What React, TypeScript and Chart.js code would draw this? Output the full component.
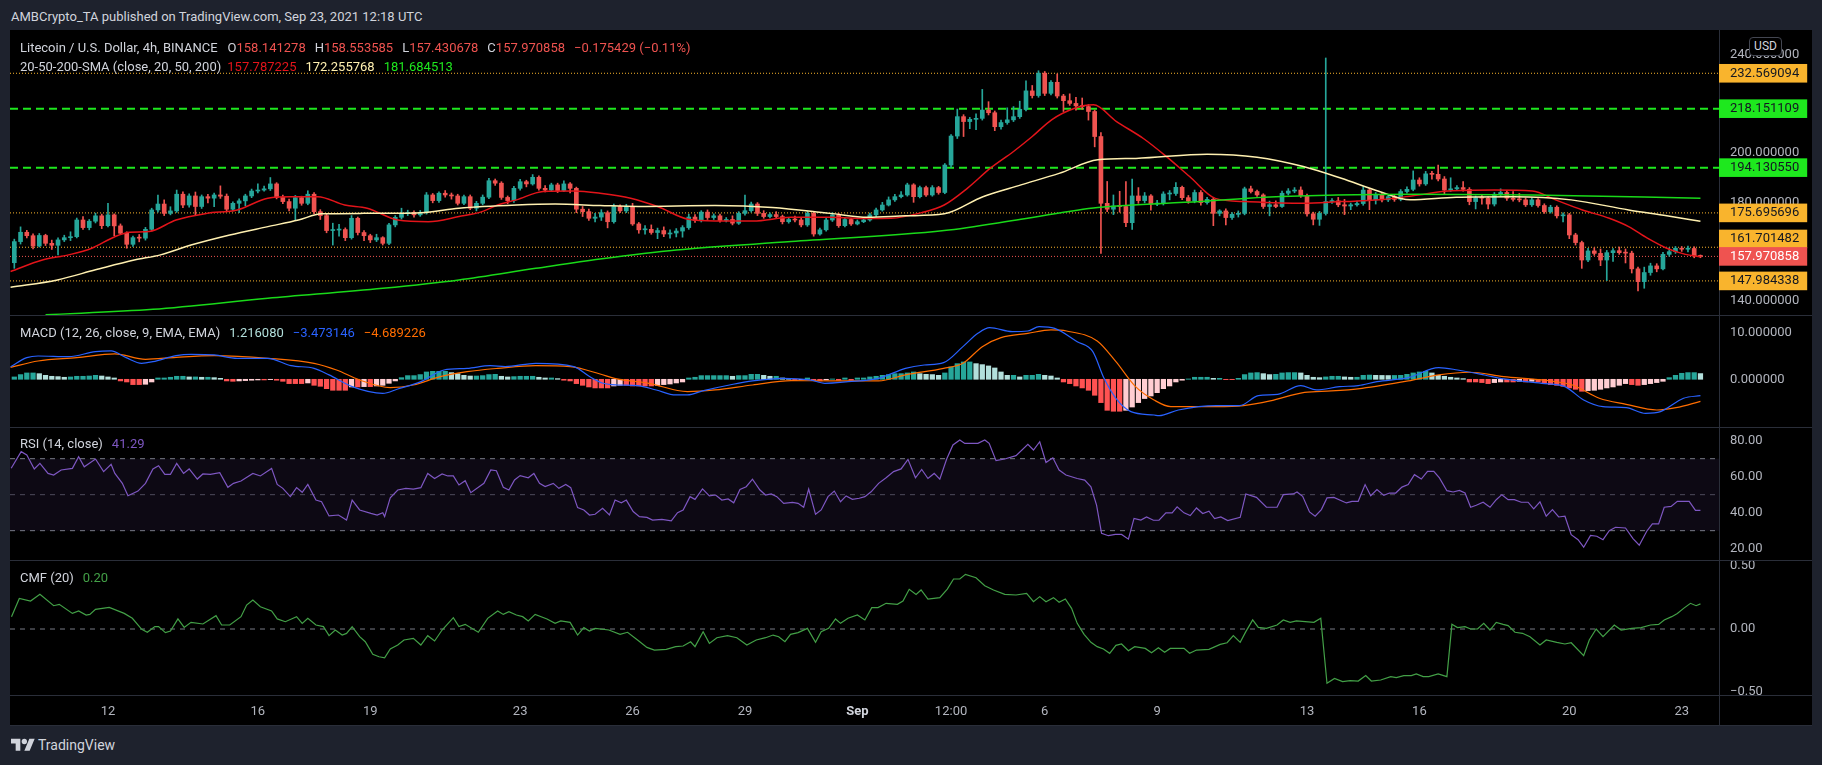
import React, { useEffect, useRef } from "react";
import { Chart, registerables } from "chart.js";

Chart.register(...registerables);

const FONT = "Roboto, 'Liberation Sans', Arial, sans-serif";
Chart.defaults.font.family = FONT;

// ---------------- layout (page pixels) ----------------
const FRAME_L = 10;
const FRAME_W = 1802;
const AXIS_W = 93;
const PRICE_T = 30, PRICE_H = 285;
const MACD_T = 315, MACD_H = 112;
const RSI_T = 427, RSI_H = 133;
const CMF_T = 560, CMF_H = 135;
const XAX_T = 695, XAX_H = 30;

const OUTER_BG = "#1e222d";
const SEP = "#2a2e39";
const AXIS_TEXT = "#b2b5be";
const LEGEND_TEXT = "#d1d4dc";
const UP = "#26a69a";
const DOWN = "#ef5350";
const ORANGE = "#f9b42d";
const GREEN = "#1ee81e";

// candle index range shown on the time axis
const X_MIN = -0.69;
const X_MAX = 272.97;
const PRICE_MIN = 134.1;
const PRICE_MAX = 250.2;

// ---------------- data ----------------
// 4h candles, index 0 = Aug 9 12:00 UTC ... index 270 = Sep 23 12:00 UTC
const opens = [
  155.4, 164.0, 167.8, 166.4, 162.2, 166.5, 163.3, 162.5, 164.7, 165.6,
  166.0, 172.8, 169.7, 172.3, 174.5, 170.5, 174.9, 170.4, 167.4, 162.9,
  165.6, 165.4, 169.0, 176.9, 179.3, 175.5, 176.5, 183.3, 178.9, 182.6,
  178.3, 182.3, 181.7, 183.0, 182.5, 177.2, 179.6, 180.6, 182.6, 184.6,
  185.0, 185.5, 187.5, 182.0, 180.3, 177.6, 181.9, 179.6, 183.3, 176.2,
  174.6, 168.5, 168.7, 168.9, 165.6, 173.5, 167.7, 166.4, 164.7, 165.6,
  163.3, 170.8, 173.9, 175.5, 175.9, 174.9, 175.8, 183.0, 180.7, 183.7,
  183.0, 182.6, 179.6, 182.3, 177.6, 179.6, 182.1, 188.8, 187.8, 182.0,
  180.7, 185.7, 188.4, 187.5, 190.2, 185.7, 185.0, 187.1, 184.8, 187.5,
  185.7, 177.2, 176.2, 173.5, 174.0, 175.8, 172.1, 178.3, 176.5, 178.3,
  171.2, 168.8, 169.0, 167.7, 168.5, 167.1, 167.5, 168.3, 169.7, 174.0,
  172.6, 176.0, 173.8, 174.5, 172.6, 173.0, 171.5, 175.5, 176.6, 179.3,
  175.5, 174.2, 175.0, 174.2, 172.1, 173.0, 172.8, 170.8, 175.5, 167.1,
  168.8, 172.8, 174.9, 170.5, 173.0, 171.2, 172.1, 172.8, 174.9, 176.9,
  178.9, 181.0, 182.3, 183.0, 187.1, 182.3, 186.0, 183.0, 186.0, 184.0,
  195.2, 207.0, 214.9, 212.9, 213.8, 214.2, 217.6, 216.5, 210.8, 212.5,
  213.6, 214.9, 217.9, 225.4, 223.5, 232.6, 224.4, 228.9, 223.3, 221.4,
  220.3, 219.3, 219.0, 217.0, 206.8, 179.6, 177.2, 178.5, 178.3, 171.7,
  182.6, 180.7, 182.6, 179.3, 179.5, 183.4, 183.6, 186.1, 181.9, 180.5,
  184.0, 179.9, 181.2, 175.5, 176.5, 173.8, 175.1, 175.5, 185.5, 184.4,
  183.0, 178.3, 179.0, 178.3, 183.7, 184.6, 185.0, 182.7, 175.3, 173.1,
  175.5, 180.3, 180.6, 179.0, 178.5, 179.0, 179.5, 185.0, 181.0, 183.3,
  181.0, 182.3, 181.2, 184.4, 185.3, 189.1, 187.5, 191.6, 191.4, 189.5,
  185.0, 185.5, 186.0, 185.3, 180.3, 181.9, 181.7, 179.3, 183.3, 184.0,
  181.7, 181.2, 181.0, 179.0, 181.0, 178.7, 176.2, 178.0, 174.5, 174.9,
  166.7, 163.6, 156.5, 160.2, 159.2, 156.5, 159.5, 160.3, 159.5, 159.3,
  152.9, 147.7, 151.4, 154.1, 152.9, 158.8, 159.9, 161.3, 160.9, 161.2,
  158.141,
];

const highs = [
  165.0, 170.0, 168.6, 167.2, 167.3, 167.0, 164.6, 165.5, 166.6, 168.0,
  173.6, 174.2, 173.0, 175.6, 175.2, 179.6, 175.3, 171.2, 168.0, 166.3,
  166.9, 169.8, 177.6, 183.0, 181.0, 178.2, 185.0, 184.3, 183.5, 184.2,
  183.0, 183.3, 183.8, 186.7, 183.4, 180.2, 181.4, 183.3, 185.4, 187.5,
  186.6, 190.1, 188.0, 183.0, 181.3, 182.8, 182.5, 184.7, 184.0, 177.0,
  175.2, 171.5, 171.0, 169.6, 174.6, 174.0, 168.5, 167.0, 167.0, 166.0,
  171.4, 174.6, 177.6, 176.8, 176.5, 176.7, 184.0, 183.6, 184.3, 184.8,
  183.8, 183.3, 183.0, 183.0, 180.4, 183.0, 189.8, 189.5, 188.4, 182.6,
  186.5, 189.4, 189.0, 191.3, 190.8, 186.8, 187.8, 187.8, 188.8, 188.0,
  186.2, 178.3, 177.2, 175.5, 177.0, 176.5, 179.3, 179.0, 179.2, 179.6,
  171.8, 170.5, 170.8, 169.5, 170.0, 168.8, 169.3, 170.5, 175.2, 175.0,
  176.6, 176.9, 175.3, 175.2, 173.8, 174.5, 176.2, 183.0, 180.1, 179.9,
  176.6, 175.7, 176.2, 174.8, 173.8, 174.4, 173.5, 176.3, 176.0, 169.5,
  173.8, 175.8, 175.5, 173.8, 173.5, 172.8, 173.6, 175.6, 177.7, 180.0,
  182.2, 183.3, 184.4, 187.8, 187.6, 186.6, 186.6, 186.8, 186.5, 195.8,
  207.6, 218.0, 215.7, 214.6, 216.0, 226.0, 221.0, 217.2, 213.5, 218.5,
  219.0, 221.2, 229.5, 227.6, 233.6, 233.3, 229.6, 232.3, 224.0, 224.2,
  222.8, 222.5, 219.8, 217.6, 208.4, 188.5, 183.0, 184.5, 188.5, 189.5,
  186.0, 184.0, 183.2, 180.8, 184.3, 184.8, 188.0, 186.6, 182.8, 185.0,
  184.8, 182.0, 182.0, 177.0, 177.3, 175.8, 176.5, 186.2, 186.6, 185.0,
  183.5, 180.5, 180.6, 184.6, 185.6, 186.0, 186.3, 183.4, 176.0, 176.3,
  238.8, 181.5, 182.0, 181.2, 179.7, 180.5, 186.4, 185.7, 184.0, 183.9,
  183.0, 183.0, 185.2, 186.3, 192.8, 190.0, 192.6, 192.6, 195.2, 190.5,
  190.0, 186.8, 188.5, 186.0, 182.6, 182.8, 182.3, 184.0, 185.5, 184.8,
  184.4, 183.6, 181.8, 181.8, 181.5, 179.4, 178.8, 178.6, 175.7, 175.5,
  167.4, 164.2, 161.3, 161.5, 161.0, 160.4, 161.2, 161.8, 161.0, 160.1,
  153.6, 153.6, 155.2, 155.0, 159.6, 161.5, 162.0, 162.0, 162.2, 161.9,
  158.554,
];

const lows = [
  153.1, 163.0, 165.5, 161.0, 161.8, 162.4, 160.8, 158.6, 164.0, 164.4,
  165.5, 169.0, 168.8, 171.6, 169.3, 170.0, 166.4, 166.8, 161.3, 162.0,
  163.9, 164.6, 168.4, 176.0, 174.6, 174.9, 175.9, 177.8, 178.0, 174.9,
  177.5, 179.8, 178.2, 181.6, 176.3, 176.5, 175.8, 178.6, 181.9, 183.8,
  184.5, 184.8, 181.4, 179.5, 176.5, 172.8, 178.8, 179.0, 175.4, 173.0,
  167.6, 162.6, 166.2, 164.4, 165.0, 166.7, 164.4, 163.6, 164.0, 162.6,
  162.8, 170.0, 173.2, 174.6, 174.0, 174.3, 175.2, 179.8, 180.0, 182.1,
  181.3, 178.9, 179.0, 177.0, 176.5, 179.0, 181.5, 186.9, 181.2, 179.4,
  180.0, 185.0, 186.3, 187.0, 185.0, 184.2, 184.4, 184.0, 184.3, 183.8,
  175.8, 174.2, 172.6, 172.0, 172.6, 169.6, 171.5, 175.8, 175.8, 170.6,
  167.4, 167.0, 167.0, 165.2, 166.0, 165.4, 165.9, 165.8, 169.0, 171.8,
  172.0, 173.0, 173.0, 171.9, 172.0, 170.8, 171.0, 174.8, 176.0, 174.6,
  173.5, 173.6, 173.5, 171.2, 171.5, 172.0, 170.0, 170.2, 166.2, 166.6,
  168.2, 172.2, 169.8, 170.0, 170.6, 170.8, 171.7, 172.3, 174.2, 176.4,
  178.5, 180.4, 181.8, 182.5, 180.0, 181.8, 182.4, 182.5, 183.3, 183.5,
  194.2, 206.0, 206.8, 210.0, 209.6, 213.5, 215.6, 209.2, 209.8, 211.8,
  212.9, 214.2, 217.2, 222.5, 222.8, 223.5, 223.8, 222.5, 217.0, 219.5,
  217.5, 217.9, 213.5, 202.6, 159.2, 176.2, 175.0, 176.0, 170.1, 169.0,
  179.6, 179.8, 176.8, 178.6, 178.9, 181.0, 182.8, 181.1, 179.6, 179.8,
  178.8, 179.2, 170.5, 174.5, 170.8, 173.0, 174.0, 174.9, 183.8, 182.4,
  177.5, 174.5, 177.8, 177.9, 183.0, 183.9, 182.0, 174.4, 170.8, 170.6,
  174.8, 179.6, 178.2, 175.0, 177.0, 178.4, 178.8, 177.0, 179.3, 180.2,
  180.3, 180.4, 180.6, 183.7, 184.7, 186.6, 186.9, 189.4, 188.7, 183.2,
  184.4, 184.8, 184.5, 179.0, 177.3, 179.2, 177.3, 178.5, 182.6, 180.8,
  180.5, 180.2, 178.3, 178.3, 178.0, 175.5, 175.6, 173.6, 172.0, 165.2,
  162.6, 153.1, 155.8, 158.4, 154.2, 148.1, 155.9, 158.8, 155.3, 151.2,
  143.9, 145.0, 150.3, 151.7, 152.5, 158.0, 159.2, 160.0, 159.8, 157.4,
  157.431,
];

const closes = [
  164.0, 167.8, 166.4, 162.2, 166.5, 163.3, 162.5, 164.7, 165.6, 166.0,
  172.8, 169.7, 172.3, 174.5, 170.5, 174.9, 170.4, 167.4, 162.9, 165.6,
  165.4, 169.0, 176.9, 179.3, 175.5, 176.5, 183.3, 178.9, 182.6, 178.3,
  182.3, 181.7, 183.0, 182.5, 177.2, 179.6, 180.6, 182.6, 184.6, 185.0,
  185.5, 187.5, 182.0, 180.3, 177.6, 181.9, 179.6, 183.3, 176.2, 174.6,
  168.5, 168.7, 168.9, 165.6, 173.5, 167.7, 166.4, 164.7, 165.6, 163.3,
  170.8, 173.9, 175.5, 175.9, 174.9, 175.8, 183.0, 180.7, 183.7, 183.0,
  182.6, 179.6, 182.3, 177.6, 179.6, 182.1, 188.8, 187.8, 182.0, 180.7,
  185.7, 188.4, 187.5, 190.2, 185.7, 185.0, 187.1, 184.8, 187.5, 185.7,
  177.2, 176.2, 173.5, 174.0, 175.8, 172.1, 178.3, 176.5, 178.3, 171.2,
  168.8, 169.0, 167.7, 168.5, 167.1, 167.5, 168.3, 169.7, 174.0, 172.6,
  176.0, 173.8, 174.5, 172.6, 173.0, 171.5, 175.5, 176.6, 179.3, 175.5,
  174.2, 175.0, 174.2, 172.1, 173.0, 172.8, 170.8, 175.5, 167.1, 168.8,
  172.8, 174.9, 170.5, 173.0, 171.2, 172.1, 172.8, 174.9, 176.9, 178.9,
  181.0, 182.3, 183.0, 187.1, 182.3, 186.0, 183.0, 186.0, 184.0, 195.2,
  207.0, 214.9, 212.9, 213.8, 214.2, 217.6, 216.5, 210.8, 212.5, 213.6,
  214.9, 217.9, 225.4, 223.5, 232.6, 224.4, 228.9, 223.3, 221.4, 220.3,
  219.3, 219.0, 217.0, 206.8, 179.6, 177.2, 178.5, 178.3, 171.7, 182.6,
  180.7, 182.6, 179.3, 179.5, 183.4, 183.6, 186.1, 181.9, 180.5, 184.0,
  179.9, 181.2, 175.5, 176.5, 173.8, 175.1, 175.5, 185.5, 184.4, 183.0,
  178.3, 179.0, 178.3, 183.7, 184.6, 185.0, 182.7, 175.3, 173.1, 175.5,
  180.3, 180.6, 179.0, 178.5, 179.0, 179.5, 185.0, 181.0, 183.3, 181.0,
  182.3, 181.2, 184.4, 185.3, 189.1, 187.5, 191.6, 191.4, 189.5, 185.0,
  185.5, 186.0, 185.3, 180.3, 181.9, 181.7, 179.3, 183.3, 184.0, 181.7,
  181.2, 181.0, 179.0, 181.0, 178.7, 176.2, 178.0, 174.5, 174.9, 166.7,
  163.6, 156.5, 160.2, 159.2, 156.5, 159.5, 160.3, 159.5, 159.3, 152.9,
  147.7, 151.4, 154.1, 152.9, 158.8, 159.9, 161.3, 160.9, 161.2, 158.141,
  157.971,
];

// moving averages, [candle index, price]
const sma20Pts = [
  [-0.6, 151.8], [4.5, 156.5], [8.7, 158.6], [12.4, 161.3], [16.1, 166.0], [18.5, 167.8], [21.6, 168.1],
  [25.9, 172.8], [30.8, 175.5], [35.7, 176.9], [40.6, 181.7], [44.3, 182.3], [48.6, 182.3], [52.9, 178.9],
  [56.5, 177.6], [61.4, 172.8], [66.3, 172.1], [71.2, 174.2], [74.9, 176.2], [77.4, 178.9], [80.4, 181.0],
  [84.7, 184.4], [89.6, 184.6], [93.8, 183.7], [98.7, 181.7], [103, 178.3], [107.9, 173.1], [112.2, 172.4],
  [118.3, 172.4], [124.4, 173.9], [130.6, 173.9], [136.7, 173.4], [140.4, 173.5], [145.3, 175.8],
  [148.9, 178.9], [152.6, 185.7], [156.3, 193.9], [160, 200.7], [163, 206.8], [166.1, 213.6], [169.8, 218.3],
  [172.8, 219.7], [176.5, 212.9], [180.8, 206.0], [184.5, 198.6], [188.2, 190.5], [192.3, 181.6],
  [197.2, 180.3], [206.4, 179.6], [212.5, 180.3], [218.6, 181.0], [224.8, 183.0], [229.6, 184.6],
  [237, 185.0], [243.1, 184.6], [246.8, 181.0], [251.1, 176.9], [255.4, 173.5], [258.5, 170.1],
  [261.5, 165.4], [264.6, 161.3], [267.6, 158.8], [270, 157.787],
];
const sma50Pts = [
  [-0.6, 145.4], [6.9, 148.4], [13, 152.5], [19.2, 156.5], [23.4, 158.6], [28.3, 162.6], [34.5, 166.7],
  [40.6, 170.1], [45.5, 172.8], [49.2, 175.3], [55.9, 175.5], [65.1, 175.8], [71.2, 177.6], [80.4, 178.9],
  [86.6, 179.3], [93.8, 178.7], [99.9, 178.3], [112.2, 178.7], [121.4, 177.9], [130.6, 175.5],
  [136.7, 173.9], [142.8, 174.5], [148.9, 175.3], [155.1, 182.3], [161.2, 187.1], [167.3, 191.8],
  [173.5, 197.3], [179.6, 197.9], [191, 199.6], [199, 198.4], [206.4, 194.6], [212.5, 189.8],
  [218.6, 184.4], [223.5, 181.0], [230.9, 182.1], [240.1, 182.3], [249.3, 181.0], [258.5, 176.9],
  [264.6, 174.5], [270, 172.256],
];
const sma200Pts = [
  [5, 134.2], [22.2, 136.4], [40.6, 140.9], [59, 145.0], [71.2, 148.4], [83.5, 153.1], [93.8, 156.9],
  [106, 160.6], [124.4, 164.0], [148.9, 168.5], [161.2, 173.1], [173.5, 177.9], [189.9, 180.3],
  [200.2, 182.1], [224.8, 183.3], [243.1, 183.0], [270, 181.685],
];

// horizontal levels drawn on the price pane (also shown as axis badges)
const levelValues = [232.569094, 218.151109, 194.13055, 175.695696, 161.701482, 157.970858, 147.984338];
const levelKinds = ["dot", "dash", "dash", "dot", "dot", "price", "dot"];
const priceAxisTicks = [140, 180, 200, 240];

// MACD (12, 26, 9)
const macdHist = [
  0.5, 1.0, 1.35, 1.35, 1.2, 0.85, 0.64, 0.57, 0.43, 0.5,
  0.64, 0.64, 0.7, 0.85, 0.7, 0.5, 0.28, -0.35, -0.57, -1.13,
  -1.13, -1.06, -0.57, 0.28, 0.28, 0.43, 0.64, 0.64, 0.5, 0.5,
  0.43, 0.43, 0.35, 0.2, -0.35, -0.43, -0.35, -0.28, -0.2, -0.14,
  -0.14, -0.07, -0.2, -0.43, -0.92, -0.92, -0.92, -0.78, -1.28, -1.49,
  -2.0, -2.34, -2.34, -2.34, -1.63, -1.63, -1.56, -1.56, -1.42, -1.28,
  -0.85, -0.35, 0.35, 0.78, 0.78, 1.0, 1.56, 1.7, 1.7, 1.7,
  1.42, 1.2, 0.85, 0.7, 0.7, 0.78, 1.0, 1.06, 0.64, 0.5,
  0.57, 0.64, 0.64, 0.64, 0.43, 0.28, 0.28, 0.14, -0.2, -0.35,
  -0.92, -1.28, -1.63, -1.84, -1.84, -1.84, -1.42, -1.28, -1.28, -1.42,
  -1.42, -1.42, -1.42, -1.28, -1.13, -1.0, -0.78, -0.57, 0.28, 0.43,
  0.78, 0.78, 0.78, 0.78, 0.78, 0.64, 0.78, 0.78, 1.06, 1.06,
  0.85, 0.64, 0.64, 0.28, 0.2, -0.2, -0.1, 0.28, -0.28, -0.35,
  -0.14, 0.07, -0.2, 0.28, -0.2, 0.28, 0.28, 0.5, 0.64, 0.85,
  1.0, 1.2, 1.2, 1.35, 1.56, 1.2, 1.06, 1.0, 0.85, 1.35,
  2.62, 3.33, 3.69, 3.69, 3.33, 3.12, 2.84, 2.41, 1.56, 0.85,
  0.85, 0.5, 0.85, 0.85, 1.06, 0.85, 0.7, 0.28, -0.57, -0.92,
  -1.42, -1.84, -2.34, -3.4, -4.96, -6.6, -6.8, -6.8, -6.6, -5.9,
  -4.96, -4.1, -3.55, -2.84, -2.0, -1.42, -0.57, -0.2, 0.07, 0.43,
  0.43, 0.43, 0.2, 0.2, -0.07, -0.07, 0.2, 1.0, 1.35, 1.42,
  1.2, 1.0, 1.06, 1.35, 1.42, 1.42, 1.35, 0.85, 0.43, 0.35,
  0.5, 0.64, 0.64, 0.5, 0.43, 0.43, 0.85, 0.9, 0.85, 0.82,
  0.8, 0.82, 0.85, 1.06, 1.35, 1.56, 1.7, 1.35, 0.85, 0.64,
  0.43, 0.28, 0.14, -0.57, -0.57, -0.7, -0.92, -0.7, -0.57, -0.57,
  -0.57, -0.43, -0.57, -0.43, -0.57, -0.92, -1.13, -1.28, -1.49, -1.84,
  -2.13, -2.55, -2.41, -2.34, -2.13, -1.84, -1.63, -1.28, -0.92, -1.13,
  -1.28, -1.13, -0.92, -0.7, -0.43, 0.35, 0.85, 1.28, 1.42, 1.42,
  1.21608,
];
const macdPts = [
  [-0.6, 2.68], [2, 4.6], [3.8, 4.96], [8.7, 4.82], [13, 5.88], [15.5, 6.03], [17.9, 4.6], [20.4, 3.4],
  [22.2, 3.75], [25.9, 5.03], [28.3, 5.32], [32, 5.18], [35.7, 4.47], [40.6, 4.47], [44.3, 2.91], [48, 2.33],
  [50.4, 0.94], [54.1, -1.57], [59, -2.99], [61.4, -2.06], [65.1, -0.5], [68.8, 1.98], [72.5, 2.33],
  [76.2, 2.91], [78.6, 2.7], [83.5, 3.4], [89.6, 2.7], [92.1, 0.6], [94.3, -0.85], [96.7, -1.21],
  [99.8, -1.35], [102.8, -2.27], [105.9, -3.33], [107.8, -3.33], [110.2, -2.48], [115.1, -1.06],
  [118.2, -0.35], [123.1, 0.2], [127.4, -0.14], [129.8, -0.85], [133.5, -0.5], [138.4, 0.2], [142.7, 2.33],
  [145.7, 3.04], [148.8, 3.54], [151.9, 6.95], [154.3, 9.78], [156.2, 10.98], [159.8, 10.13], [162.3, 10.27],
  [164.1, 11.2], [166.6, 10.84], [170.2, 8.0], [172.7, 5.88], [174.5, 0.2], [176.4, -4.05], [178.8, -6.88],
  [182.5, -7.6], [183.3, -7.74], [186.4, -6.53], [192.5, -5.61], [196.2, -5.61], [199.2, -3.48],
  [202.3, -3.2], [206, -1.35], [208.5, -2.27], [212.2, -1.57], [215.2, -1.35], [218.2, -0.5], [223.2, 0.35],
  [228.1, 2.48], [231.1, 1.98], [235.4, 0.92], [238.5, 0.07], [244.6, -0.85], [248.3, -1.57], [251.3, -4.4],
  [254.4, -5.82], [258.1, -6.03], [261.2, -7.24], [263.6, -6.88], [267.3, -4.04], [270, -3.473146],
];
const signalPts = [
  [-0.6, 2.54], [3.8, 3.89], [10, 4.6], [16.1, 5.39], [21, 4.25], [25.9, 4.68], [32, 5.03], [40.6, 4.47],
  [48, 3.4], [51.6, 1.98], [55.3, -0.14], [60.2, -1.77], [63.9, -1.21], [68.2, 0.57], [72.5, 1.63],
  [77.4, 2.33], [83.5, 2.91], [89, 2.7], [93.8, 1.13], [96.1, 0.2], [101.6, -0.85], [107.8, -2.62],
  [112.2, -2.27], [118.2, -1.21], [124.4, -0.28], [130.6, -0.35], [138.4, -0.35], [142.7, 0.94],
  [148.8, 2.33], [151.9, 3.4], [155, 6.95], [158, 8.86], [162.3, 9.78], [166, 10.5], [168.5, 10.27],
  [173.4, 8.15], [176.4, 3.75], [179.5, -1.5], [182.5, -4.4], [185.2, -5.82], [192.5, -5.82], [196.8, -5.6],
  [201.1, -4.6], [206.6, -2.77], [210.9, -2.48], [215.8, -1.92], [223.2, -0.35], [228.1, 0.94], [233, 1.5],
  [238.5, 0.57], [244.6, -0.14], [249.5, -1.21], [253.8, -4.04], [258.1, -5.32], [263, -6.53], [266.1, -6.03],
  [270, -4.689226],
];

// RSI (14)
const rsiPts = [
  [-0.5, 64.7], [1.1, 73.9], [2, 72.1], [3.2, 64.3], [4.1, 67.4], [5.4, 61.8], [6.3, 60.9], [7.5, 63.7],
  [9.3, 64.6], [10.3, 71.1], [11.2, 65.5], [13, 69.8], [14.3, 62.8], [15.5, 66.9], [16.1, 61.8], [17.3, 56.3],
  [18.2, 49.4], [19.8, 52], [21, 56.3], [22.2, 64.3], [23.1, 66.1], [24.1, 61.3], [25, 61.3], [26, 67.4],
  [27.1, 61.8], [28, 64.3], [29.3, 58.7], [30.2, 61.5], [31.4, 61.3], [32.9, 62.2], [34.2, 54.1], [35.1, 56.3],
  [36.3, 57.6], [38.2, 61.8], [39.4, 60.4], [41.2, 64.6], [42.1, 55.7], [43, 53.5], [44.2, 48.9], [45.2, 53.9],
  [46.1, 51.3], [47, 55.7], [48.3, 47], [49.2, 46.1], [50.4, 38.2], [51.9, 38.7], [53.2, 35.9], [54.1, 47],
  [55.3, 41.5], [57.1, 39.6], [58.1, 38.7], [59, 40], [59.3, 37.8], [60.2, 48.3], [61.4, 52.6], [62.7, 53.5],
  [63.9, 53.1], [65.1, 53.9], [66.2, 61.8], [67.3, 59], [68.5, 61.5], [69.4, 60.4], [70.3, 60.4], [71.2, 55.4],
  [72.2, 57.8], [73.1, 51.1], [75.2, 56.3], [76.3, 63.7], [77.2, 63.3], [78.3, 54.1], [79.2, 52.6], [80.1, 58.2],
  [81, 60.6], [82.3, 59.4], [83.2, 61.8], [84.1, 56.3], [85, 54.5], [86.3, 56.3], [87.2, 53.5], [88.3, 55.7],
  [89.1, 53.9], [90.2, 42.8], [91.2, 41.5], [92.1, 38.7], [93, 39.1], [94.2, 42.4], [95.3, 38.7], [96.2, 47],
  [97.2, 45.5], [98, 47], [99.1, 40.6], [100.1, 37.8], [101.3, 37.4], [102.2, 35.9], [103.7, 36.3],
  [105.2, 35.4], [106.2, 40], [107.1, 41.5], [108.2, 48.9], [109, 47.4], [110.2, 53.2], [111.3, 49.3],
  [112.3, 49.8], [113.3, 47], [114.3, 47.6], [115.2, 45.5], [116.2, 52.9], [117.2, 54.4], [118.2, 58.6],
  [119.4, 52.6], [120.3, 49.8], [121.2, 50.4], [122.1, 48.9], [123.2, 45.2], [124.6, 45.7], [125.5, 45.2],
  [126.4, 43], [127.2, 53.1], [128.3, 39.1], [129.2, 41.5], [130.3, 48.9], [131.3, 52], [132.3, 46.1],
  [133.2, 49.3], [134.2, 47.4], [135.3, 48], [136.2, 48.9], [137.2, 51.6], [138.4, 56.3], [139.6, 59.4],
  [140.8, 62.8], [142, 64.3], [143.1, 69.6], [144.3, 59.4], [145.3, 64], [146.3, 59], [147.3, 61.8],
  [148.2, 58.6], [149.3, 69.8], [150.3, 77.6], [151.4, 80.4], [152.2, 78.5], [154.3, 78.5], [155.4, 80.4],
  [156.1, 78.5], [157.2, 68.9], [158.6, 69.8], [160.4, 71.7], [162.3, 78], [163.2, 74.8], [164.2, 79.4],
  [165.2, 67.9], [166.3, 70.5], [167.3, 63.7], [168.4, 60.9], [170.2, 59], [171.4, 58.1], [172.4, 54.4],
  [173.3, 44.2], [174.1, 28.5], [175.2, 27.2], [176.3, 27.9], [177.3, 27.9], [178.4, 25.3], [179.3, 36.8],
  [180.4, 35.9], [181.3, 37.6], [182.4, 35.8], [183.3, 35.8], [184.4, 39.9], [185.4, 39.9], [186.2, 43.2],
  [187.3, 39.9], [188.3, 38.4], [189.3, 42.6], [190.3, 39.5], [191.3, 40.8], [192.2, 36.7], [193.2, 37.6],
  [194.3, 35.6], [196.3, 37.4], [197.2, 50.4], [198.9, 48.5], [200.5, 43], [202.2, 43], [203.2, 50],
  [204.8, 50.4], [205.4, 51.5], [206.3, 49.1], [207.4, 40.4], [208.3, 38], [209.3, 41.7], [210.2, 48.2],
  [211.3, 48.5], [213.3, 45.4], [214.2, 46.3], [215.2, 46.3], [216.3, 55.6], [217.2, 49.4], [218.2, 52.8],
  [219.3, 49.6], [220.2, 50.9], [221.2, 50.9], [222.2, 54.2], [223.2, 55.6], [224.2, 61.1], [225.3, 58.7],
  [226.3, 62.9], [227.3, 62.9], [228.2, 59.3], [229.4, 52.2], [230.4, 51.5], [231.4, 52.4], [232.3, 50.9],
  [233.2, 43], [234.1, 44.1], [235.2, 45.8], [236.3, 43], [237.3, 47.2], [238.2, 50], [239.2, 47.2],
  [240.2, 47.2], [241.3, 45.8], [242.4, 45.8], [243.3, 42.1], [244.3, 46], [245.3, 38], [246.3, 41.7],
  [247.3, 37.6], [248.3, 38], [249.3, 27.8], [250.4, 25], [251.3, 20.8], [252.4, 27.4], [253.4, 26.9],
  [254.4, 25], [255.4, 30], [256.4, 31.9], [258, 31.5], [259.2, 25.6], [260.2, 21.9], [261.4, 29.7],
  [262.3, 33.8], [263.3, 33.8], [264.2, 43], [265.3, 43.5], [266.3, 46.3], [267.3, 46.3], [268.2, 46.3],
  [269.2, 41.3], [270, 41.29],
];

// CMF (20)
const cmfPts = [
  [-0.45, 0.098], [0.8, 0.243], [2.6, 0.222], [4.1, 0.275], [6.3, 0.185], [7.2, 0.196], [9.3, 0.124],
  [10.3, 0.143], [11.5, 0.111], [12.1, 0.116], [13, 0.156], [15.2, 0.172], [17.6, 0.124], [18.9, 0.085],
  [20.4, -0.003], [21.3, -0.026], [22.5, 0.019], [23.1, 0.019], [24.2, -0.029], [25, -0.016], [26.2, 0.08],
  [27.2, 0.013], [28.3, 0.053], [30.2, 0.04], [32.3, 0.106], [33.2, 0.032], [34.5, 0.032], [36.3, 0.098],
  [37.2, 0.19], [38.2, 0.23], [39.4, 0.177], [41.2, 0.143], [42.1, 0.08], [43.4, 0.058], [45.2, 0.098],
  [46.1, 0.045], [47, 0.085], [48.3, 0.032], [49.5, 0.019], [50.4, -0.053], [51.4, -0.008], [52.5, -0.048],
  [53.2, -0.035], [54.1, 0.019], [55.3, -0.061], [56.2, -0.101], [57.4, -0.201], [58.4, -0.22], [59.3, -0.228],
  [60.2, -0.159], [61.4, -0.127], [62.4, -0.087], [63.9, -0.074], [65.1, -0.127], [66.2, -0.053],
  [67.3, -0.095], [68.5, -0.008], [70.3, 0.09], [71.2, 0.019], [72.2, 0.037], [74.3, -0.026], [75.8, 0.085],
  [77.4, 0.143], [78.3, 0.116], [79.2, 0.138], [80.4, 0.111], [81.4, 0.098], [82.3, 0.064], [83.4, 0.116],
  [85.3, 0.08], [86.6, 0.045], [87.5, 0.064], [89, 0.053], [90.2, -0.048], [91.2, 0.011], [92.1, -0.016],
  [93, 0.005], [95.2, -0.008], [97, -0.042], [98.2, -0.026], [99.8, -0.087], [101.3, -0.146], [102.5, -0.167],
  [104.4, -0.161], [105.9, -0.14], [107.1, -0.135], [108.3, -0.101], [109, -0.14], [110.3, -0.021],
  [111.3, -0.114], [112.5, -0.069], [114.2, -0.053], [115.7, -0.069], [117.3, -0.127], [118.8, -0.087],
  [120.3, -0.069], [121.5, -0.048], [122.4, -0.061], [123.4, -0.101], [124.3, -0.042], [125.5, -0.029],
  [127, 0.005], [128.3, -0.106], [129.2, -0.021], [130.4, 0.005], [131.5, 0.08], [132.3, 0.045],
  [133.5, 0.085], [135, 0.111], [136.2, 0.072], [137.3, 0.17], [138.3, 0.17], [139.6, 0.204], [141.4, 0.196],
  [142.3, 0.222], [143.3, 0.315], [144.4, 0.275], [145.2, 0.31], [146.3, 0.238], [148.2, 0.249],
  [149.4, 0.317], [150.4, 0.397], [151.4, 0.397], [152.3, 0.434], [154, 0.407], [155.4, 0.344], [156.8, 0.31],
  [158.6, 0.275], [160.4, 0.27], [162.1, 0.283], [163.2, 0.217], [164.2, 0.257], [165.2, 0.217],
  [166.4, 0.249], [167.3, 0.212], [168.3, 0.238], [169.3, 0.164], [170.2, 0.045], [171.3, -0.042],
  [172.4, -0.106], [173.4, -0.14], [174.4, -0.159], [175.4, -0.193], [176.4, -0.13], [177.3, -0.119],
  [178.4, -0.172], [179.4, -0.14], [181.1, -0.154], [182.1, -0.188], [183.2, -0.148], [184.2, -0.185],
  [185.1, -0.154], [187.3, -0.154], [188.2, -0.193], [189.3, -0.167], [191.3, -0.161], [193.1, -0.122],
  [194.2, -0.109], [195.2, -0.053], [196.3, -0.106], [197.2, -0.021], [198.3, 0.072], [199.2, 0.013],
  [200.5, 0.005], [202.2, 0.032], [203.2, 0.072], [204.3, 0.053], [205.3, 0.064], [208.1, 0.053],
  [209.2, 0.085], [210.2, -0.431], [211.4, -0.392], [212.7, -0.418], [213.9, -0.41], [215.2, -0.413],
  [216.4, -0.37], [217.3, -0.413], [218.8, -0.405], [220.4, -0.378], [221.3, -0.386], [222.5, -0.37],
  [223.7, -0.37], [224.5, -0.357], [225.6, -0.378], [226.5, -0.378], [228, -0.357], [229.4, -0.378],
  [230.2, 0.037], [231.1, 0.011], [232.3, 0.019], [233.2, 0], [234.3, 0], [235.3, 0.045], [236.3, -0.008],
  [237.3, 0.053], [238.4, 0.037], [239.2, 0.027], [240.3, -0.026], [241.5, -0.034], [242.7, -0.061],
  [244.3, -0.127], [245.3, -0.087], [247, -0.106], [248.3, -0.119], [249.3, -0.109], [251.3, -0.212],
  [252.2, -0.087], [253.3, 0], [254.4, -0.061], [256.2, 0.032], [257.3, -0.008], [259, 0.005], [260.5, 0.011],
  [262, 0.032], [263.3, 0.037], [264.2, 0.072], [265.4, 0.098], [266.3, 0.124], [267.3, 0.164],
  [268.4, 0.204], [269.3, 0.185], [270, 0.2],
];

// time axis labels (candle index -> label)
const xTickIdx = [15, 39, 57, 81, 99, 117, 135, 150, 165, 183, 207, 225, 249, 267];
const xTickText = ["12", "16", "19", "23", "26", "29", "Sep", "12:00", "6", "9", "13", "16", "20", "23"];

// ---------------- helpers ----------------
const pts = (arr: number[][]) => arr.map(([x, y]) => ({ x, y }));
const minus = (s: string) => s.replace("-", "\u2212");

function baseOptions(scales: any, padding: any = 0) {
  return {
    animation: false,
    responsive: false,
    maintainAspectRatio: false,
    devicePixelRatio: 1,
    events: [],
    layout: { padding },
    plugins: { legend: { display: false }, tooltip: { enabled: false } },
    scales,
  };
}

const hiddenX = { type: "linear", min: X_MIN, max: X_MAX, offset: false, bounds: "data", display: false };

function rightAxis(
  min: number,
  max: number,
  tickVals: number[],
  fmt: (v: number) => string,
  extraTicks: any = {},
) {
  return {
    type: "linear",
    position: "right",
    min,
    max,
    bounds: "data",
    grid: { display: false, drawTicks: false },
    border: { display: true, color: SEP, width: 1 },
    afterBuildTicks: (s: any) => {
      s.ticks = tickVals.map((v) => ({ value: v }));
    },
    afterFit: (s: any) => {
      s.width = AXIS_W;
      s.paddingTop = 0;
      s.paddingBottom = 0;
    },
    ticks: {
      autoSkip: false,
      padding: 11,
      color: AXIS_TEXT,
      font: { family: FONT, size: 13 },
      callback: (v: any) => fmt(Number(v)),
      ...extraTicks,
    },
  };
}

const hLine = (v: number, color: string, dash: number[], width: number, order = 5) => ({
  type: "line",
  data: [{ x: X_MIN, y: v }, { x: X_MAX, y: v }],
  borderColor: color,
  borderWidth: width,
  borderDash: dash,
  pointRadius: 0,
  fill: false,
  order,
});

const levelLineColor = (k: string) => (k === "dash" ? GREEN : k === "price" ? DOWN : ORANGE);
const badgeBg = (k: string) => (k === "dash" ? GREEN : k === "price" ? DOWN : ORANGE);
const badgeFg = (k: string) => (k === "price" ? "#ffffff" : "#131722");
const candleColor = (i: number) => (closes[i] >= opens[i] ? UP : DOWN);

// badge label placement: a badge that would overlap the last-price badge is nudged off it,
// like the price scale does (badge height ~19px -> ~7.1 price units here)
const BADGE_GAP = 7.1;
const lastPrice = levelValues[levelKinds.indexOf("price")];
const badgeAt = levelValues.map((v, k) => {
  if (levelKinds[k] === "price") return v;
  const d = v - lastPrice;
  if (Math.abs(d) < BADGE_GAP) return lastPrice + Math.sign(d || 1) * BADGE_GAP;
  return v;
});
const badgeIndex = (v: any) => badgeAt.findIndex((b) => Math.abs(b - v) < 1e-6);

function histColor(i: number) {
  const v = macdHist[i];
  const p = i > 0 ? macdHist[i - 1] : 0;
  if (v >= 0) return v >= p ? "#26a69a" : "#b2dfdb";
  return v <= p ? "#ff5252" : "#ffcdd2";
}

// ---------------- chart configs ----------------
function buildPrice() {
  const levels = levelValues.map((v, k) =>
    hLine(
      v,
      levelLineColor(levelKinds[k]),
      levelKinds[k] === "dash" ? [8, 5] : [1, 2],
      levelKinds[k] === "dash" ? 2 : 1,
    ),
  );
  const smaLine = (p: number[][], color: string) => ({
    type: "line",
    data: pts(p),
    borderColor: color,
    borderWidth: 1.5,
    pointRadius: 0,
    cubicInterpolationMode: "monotone",
    fill: false,
    order: 0,
  });
  const wicks = {
    type: "bar",
    data: closes.map((_, i) => ({ x: i, y: [lows[i], highs[i]] })),
    backgroundColor: (c: any) => candleColor(c.dataIndex),
    barThickness: 1,
    grouped: false,
    minBarLength: 1,
    order: 2,
  };
  const bodies = {
    type: "bar",
    data: closes.map((c, i) => ({ x: i, y: [opens[i], c] })),
    backgroundColor: (c: any) => candleColor(c.dataIndex),
    barThickness: 4,
    grouped: false,
    minBarLength: 1,
    order: 1,
  };
  const allTicks = [...priceAxisTicks, ...badgeAt];
  return {
    type: "bar",
    data: {
      datasets: [
        ...levels,
        smaLine(sma200Pts, "#19d919"),
        smaLine(sma50Pts, "#fff0b0"),
        smaLine(sma20Pts, "#e3141a"),
        wicks,
        bodies,
      ],
    },
    options: baseOptions({
      x: hiddenX,
      y: rightAxis(
        PRICE_MIN,
        PRICE_MAX,
        allTicks,
        (v) => {
          const k = badgeIndex(v);
          return (k >= 0 ? levelValues[k] : v).toFixed(6);
        },
        {
          showLabelBackdrop: (c: any) => badgeIndex(c.tick && c.tick.value) >= 0,
          backdropColor: (c: any) => {
            const k = badgeIndex(c.tick && c.tick.value);
            return k >= 0 ? badgeBg(levelKinds[k]) : "rgba(0,0,0,0)";
          },
          backdropPadding: { top: 1.5, bottom: 1.5, left: 11, right: 8 },
          color: (c: any) => {
            const k = badgeIndex(c.tick && c.tick.value);
            return k >= 0 ? badgeFg(levelKinds[k]) : AXIS_TEXT;
          },
        },
      ),
    }),
  };
}

function buildMacd() {
  return {
    type: "bar",
    data: {
      datasets: [
        { type: "line", data: pts(macdPts), borderColor: "#2962ff", borderWidth: 1.2, pointRadius: 0, cubicInterpolationMode: "monotone", order: 0 },
        { type: "line", data: pts(signalPts), borderColor: "#ff6d00", borderWidth: 1.2, pointRadius: 0, cubicInterpolationMode: "monotone", order: 1 },
        {
          type: "bar",
          data: macdHist.map((v, i) => ({ x: i, y: v })),
          backgroundColor: (c: any) => histColor(c.dataIndex),
          barThickness: 4.6,
          grouped: false,
          order: 2,
        },
      ],
    },
    options: baseOptions({ x: hiddenX, y: rightAxis(-10.15, 13.68, [10, 0], (v) => minus(v.toFixed(6))) }),
  };
}

function buildRsi() {
  return {
    type: "line",
    data: {
      datasets: [
        hLine(70, "#787b86", [5, 5], 1),
        { ...hLine(30, "#787b86", [5, 5], 1), fill: "-1", backgroundColor: "rgba(126,87,194,0.1)" },
        hLine(50, "rgba(120,123,134,0.6)", [5, 5], 1),
        { type: "line", data: pts(rsiPts), borderColor: "#7e57c2", borderWidth: 1.2, pointRadius: 0, fill: false, order: 0 },
      ],
    },
    options: baseOptions({ x: hiddenX, y: rightAxis(13.7, 87.6, [80, 60, 40, 20], (v) => v.toFixed(2)) }),
  };
}

function buildCmf() {
  return {
    type: "line",
    data: {
      datasets: [
        hLine(0, "#787b86", [5, 5], 1),
        { type: "line", data: pts(cmfPts), borderColor: "#43a047", borderWidth: 1.2, pointRadius: 0, fill: false, order: 0 },
      ],
    },
    options: baseOptions({ x: hiddenX, y: rightAxis(-0.524, 0.548, [0.5, 0, -0.5], (v) => minus(v.toFixed(2))) }),
  };
}

function buildTimeAxis() {
  return {
    type: "line",
    data: { datasets: [] },
    options: baseOptions(
      {
        x: {
          type: "linear",
          position: "bottom",
          min: X_MIN,
          max: X_MAX,
          offset: false,
          bounds: "data",
          grid: { display: false, drawTicks: false },
          border: { display: false },
          afterBuildTicks: (s: any) => {
            s.ticks = xTickIdx.map((v) => ({ value: v }));
          },
          afterFit: (s: any) => {
            s.height = XAX_H - 1;
            s.paddingLeft = 0;
            s.paddingRight = 0;
          },
          ticks: {
            autoSkip: false,
            maxRotation: 0,
            minRotation: 0,
            padding: 8,
            color: (c: any) => (c.tick && c.tick.value === 135 ? "#d1d4dc" : AXIS_TEXT),
            font: (c: any) => ({ family: FONT, size: 13, weight: c.tick && c.tick.value === 135 ? "bold" : "normal" }),
            callback: (v: any) => {
              const k = xTickIdx.indexOf(Number(v));
              return k >= 0 ? xTickText[k] : "";
            },
          },
        },
        y: { display: false, min: 0, max: 1 },
      },
      { right: AXIS_W },
    ),
  };
}

// ---------------- components ----------------
function Pane({ top, height, build }: { top: number; height: number; build: () => any }) {
  const ref = useRef<HTMLCanvasElement | null>(null);
  useEffect(() => {
    const chart = new Chart(ref.current as HTMLCanvasElement, build() as any);
    return () => chart.destroy();
  }, []);
  return (
    <canvas
      ref={ref}
      width={FRAME_W}
      height={height}
      style={{ position: "absolute", left: FRAME_L, top, width: FRAME_W, height }}
    />
  );
}

type Item = [string, string, number];
function LegendRow({ top, items }: { top: number; items: Item[] }) {
  return (
    <div
      style={{
        position: "absolute",
        left: 20,
        top,
        height: 18,
        lineHeight: "18px",
        fontSize: 13,
        whiteSpace: "nowrap",
        display: "flex",
        fontFamily: FONT,
      }}
    >
      {items.map(([text, color, gap], k) => (
        <span key={k} style={{ color, marginLeft: gap }}>
          {text}
        </span>
      ))}
    </div>
  );
}

const hRule = (top: number) => (
  <div style={{ position: "absolute", left: FRAME_L, top, width: FRAME_W, height: 1, background: SEP }} />
);

export default function App() {
  const red = "#ef5350";
  return (
    <div
      style={{
        position: "fixed",
        left: 0,
        top: 0,
        width: 1822,
        height: 765,
        background: OUTER_BG,
        overflow: "hidden",
        fontFamily: FONT,
      }}
    >
      <div style={{ position: "absolute", left: 11, top: 8, fontSize: 13, lineHeight: "18px", color: LEGEND_TEXT, whiteSpace: "nowrap" }}>
        AMBCrypto_TA published on TradingView.com, Sep 23, 2021 12:18 UTC
      </div>

      <div style={{ position: "absolute", left: FRAME_L, top: PRICE_T, width: FRAME_W, height: 695, background: "#000" }} />

      <Pane top={PRICE_T} height={PRICE_H} build={buildPrice} />
      <Pane top={MACD_T} height={MACD_H} build={buildMacd} />
      <Pane top={RSI_T} height={RSI_H} build={buildRsi} />
      <Pane top={CMF_T} height={CMF_H} build={buildCmf} />
      <Pane top={XAX_T} height={XAX_H} build={buildTimeAxis} />

      {hRule(MACD_T)}
      {hRule(RSI_T)}
      {hRule(CMF_T)}
      {hRule(XAX_T)}
      {hRule(725)}
      <div style={{ position: "absolute", left: FRAME_L + FRAME_W - AXIS_W, top: XAX_T, width: 1, height: XAX_H, background: SEP }} />

      <LegendRow
        top={39}
        items={[
          ["Litecoin / U.S. Dollar, 4h, BINANCE", LEGEND_TEXT, 0],
          ["O", LEGEND_TEXT, 10],
          ["158.141278", red, 0],
          ["H", LEGEND_TEXT, 9],
          ["158.553585", red, 0],
          ["L", LEGEND_TEXT, 9],
          ["157.430678", red, 0],
          ["C", LEGEND_TEXT, 9],
          ["157.970858", red, 0],
          ["\u22120.175429 (\u22120.11%)", red, 9],
        ]}
      />
      <LegendRow
        top={58}
        items={[
          ["20-50-200-SMA (close, 20, 50, 200)", LEGEND_TEXT, 0],
          ["157.787225", "#e3141a", 6],
          ["172.255768", "#fff0b0", 9],
          ["181.684513", "#1ee81e", 9],
        ]}
      />
      <LegendRow
        top={324}
        items={[
          ["MACD (12, 26, close, 9, EMA, EMA)", LEGEND_TEXT, 0],
          ["1.216080", "#b2dfdb", 9],
          ["\u22123.473146", "#2962ff", 9],
          ["\u22124.689226", "#ff6d00", 9],
        ]}
      />
      <LegendRow top={435} items={[["RSI (14, close)", LEGEND_TEXT, 0], ["41.29", "#7e57c2", 9]]} />
      <LegendRow top={569} items={[["CMF (20)", LEGEND_TEXT, 0], ["0.20", "#43a047", 9]]} />

      <div
        style={{
          position: "absolute",
          left: 1749,
          top: 37,
          width: 31,
          height: 17,
          border: "1px solid #434651",
          borderRadius: 4,
          background: "#000",
          color: LEGEND_TEXT,
          fontSize: 12,
          lineHeight: "17px",
          textAlign: "center",
        }}
      >
        USD
      </div>

      <div style={{ position: "absolute", left: 11, top: 736, display: "flex", alignItems: "center", color: "#d1d4dc" }}>
        <svg width="24" height="19" viewBox="0 0 36 28" style={{ display: "block" }}>
          <path d="M14 22H7V11H0V4h14v18zM28 22h-8l7.5-18h8L28 22z" fill="#d1d4dc" />
          <circle cx="20" cy="8" r="4" fill="#d1d4dc" />
        </svg>
        <span style={{ marginLeft: 3, fontSize: 14, lineHeight: "19px" }}>TradingView</span>
      </div>
    </div>
  );
}
